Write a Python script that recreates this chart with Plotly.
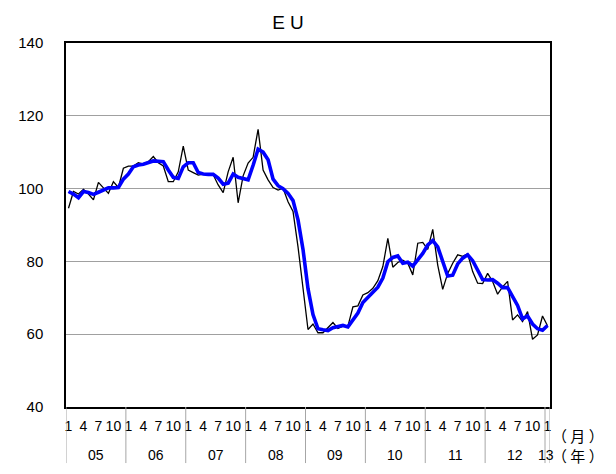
import plotly.graph_objects as go

years = ["05", "06", "07", "08", "09", "10", "11", "12", "13"]
month_labels = ["1", "4", "7", "10"]

raw_index = [
    94.6, 99.2, 98.5, 99.8, 98.5, 96.9, 101.7, 100.1, 98.7, 101.9, 100.3, 105.6,
    106.2, 106.2, 107.1, 106.7, 107.4, 108.8, 107.1, 106.2, 101.9, 101.9, 104.6, 111.7,
    105.1, 104.4, 103.7, 104.0, 104.0, 103.8, 101.0, 98.9, 104.6, 108.6, 96.1, 103.5,
    107.0, 108.6, 116.3, 105.1, 102.4, 100.3, 99.6, 100.1, 96.4, 93.7, 84.0, 72.1,
    61.3, 62.8, 60.4, 60.4, 61.9, 63.2, 61.6, 62.2, 62.2, 67.5, 67.8, 70.8,
    71.4, 72.6, 74.7, 78.6, 86.3, 78.4, 79.7, 80.3, 79.5, 76.3, 85.0, 85.2,
    83.3, 88.8, 79.0, 72.3, 76.7, 79.5, 81.8, 81.4, 82.1, 77.2, 74.0, 73.9,
    76.7, 74.5, 71.0, 73.0, 74.5, 63.9, 65.3, 63.5, 66.2, 58.6, 59.8, 65.0,
    62.3,
]

avg_index = [
    99.2, 98.5, 97.5, 99.2, 98.9, 98.4, 99.0, 99.6, 100.2, 100.2, 100.3, 102.6,
    104.0, 106.0, 106.5, 106.7, 107.1, 107.6, 107.5, 107.4, 105.1, 103.1, 102.8, 106.0,
    107.1, 107.1, 104.4, 104.0, 103.9, 103.9, 102.9, 101.2, 101.5, 104.0, 103.1, 102.7,
    102.4, 106.4, 110.8, 110.0, 107.9, 102.6, 100.8, 100.0, 98.7, 96.7, 91.4, 83.3,
    72.5, 65.4, 61.5, 61.2, 61.0, 61.8, 62.2, 62.4, 62.0, 64.1, 65.8, 68.7,
    70.0, 71.6, 72.9, 75.4, 79.9, 81.1, 81.5, 79.5, 79.8, 78.7, 80.3, 82.2,
    84.5, 85.7, 84.0, 80.0, 76.0, 76.2, 79.3, 80.9, 81.8, 80.2, 77.8, 75.0,
    74.9, 75.0, 74.0, 72.8, 72.8, 70.5, 67.9, 64.2, 65.0, 62.8, 61.5, 61.1,
    62.4,
]

n = len(raw_index)
x = list(range(n))

FONT = "Liberation Sans, Arial, sans-serif"
CJK = "Noto Sans CJK JP, sans-serif"

fig = go.Figure()
fig.add_trace(go.Scatter(x=x, y=raw_index, mode="lines",
                         line=dict(color="black", width=1.3), showlegend=False))
fig.add_trace(go.Scatter(x=x, y=avg_index, mode="lines",
                         line=dict(color="#0000FF", width=3.6), showlegend=False))

tickvals, ticktext = [], []
for k in range(n):
    m = k % 12 + 1
    if str(m) in month_labels:
        tickvals.append(k)
        ticktext.append(str(m))

shapes = []
for yi in range(len(years)):
    b = yi * 12 - 0.5
    shapes.append(dict(type="line", xref="x", yref="paper", x0=b, x1=b,
                       y0=0, y1=-0.154, line=dict(color="#a6a6a6", width=1)))
shapes.append(dict(type="line", xref="x", yref="paper", x0=n - 0.5, x1=n - 0.5,
                   y0=0, y1=-0.154, line=dict(color="#a6a6a6", width=1)))

annotations = []
for yi, yl in enumerate(years):
    cx = yi * 12 + 5.5 if yi < len(years) - 1 else 95.7
    annotations.append(dict(x=cx, y=-0.132, xref="x", yref="paper", text=yl,
                            showarrow=False, xanchor="center", yanchor="middle",
                            font=dict(family=FONT, size=14, color="black")))
annotations.append(dict(x=1.058, y=-0.077, xref="paper", yref="paper", text="（ 月 ）",
                        showarrow=False, xanchor="center", yanchor="middle",
                        font=dict(family=CJK, size=15, color="black")))
annotations.append(dict(x=1.058, y=-0.132, xref="paper", yref="paper", text="（ 年 ）",
                        showarrow=False, xanchor="center", yanchor="middle",
                        font=dict(family=CJK, size=15, color="black")))

# The page body adds an 8px margin, so the figure is sized to fit the window.
fig.update_layout(
    width=608, height=466,
    margin=dict(l=58, r=66, t=35, b=67, autoexpand=False),
    paper_bgcolor="white", plot_bgcolor="white",
    title=dict(text="E U", x=0.4605, xanchor="center", y=0.969, yanchor="middle",
               font=dict(family=FONT, size=19, color="black")),
    xaxis=dict(range=[-0.5, n - 0.5], tickvals=tickvals, ticktext=ticktext,
               showgrid=False, zeroline=False, ticks="", showline=True,
               linecolor="black", linewidth=1.5, mirror=True,
               tickfont=dict(family=FONT, size=14, color="black"),
               ticklabelstandoff=5, automargin=False),
    yaxis=dict(range=[40, 140], tickvals=[40, 60, 80, 100, 120, 140],
               showgrid=True, gridcolor="#a0a0a0", gridwidth=1, zeroline=False,
               ticks="", showline=True, linecolor="black", linewidth=1.5, mirror=True,
               tickfont=dict(family=FONT, size=15, color="black"),
               ticklabelstandoff=18, automargin=False),
    shapes=shapes, annotations=annotations,
)

fig.write_html("out.html")
